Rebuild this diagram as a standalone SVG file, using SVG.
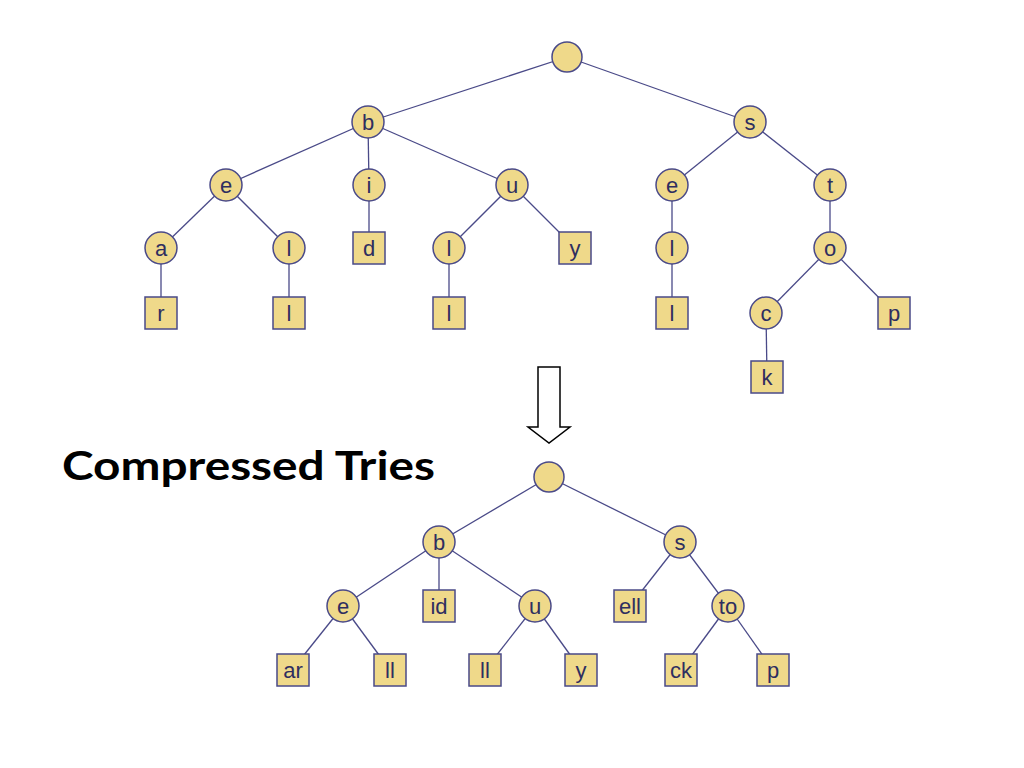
<svg xmlns="http://www.w3.org/2000/svg" width="1024" height="768" viewBox="0 0 1024 768">
<style>
.n{fill:#EFD98A;stroke:#4A4A88;stroke-width:1.5}
.e line{stroke:#4A4A88;stroke-width:1.3}
text.t{font-family:"Liberation Sans",Arial,sans-serif;font-size:22px;fill:#2E2E60;text-anchor:middle;dominant-baseline:central}
</style>
<rect width="1024" height="768" fill="#fff"/>
<g class="e">
<line x1="567" y1="57" x2="368" y2="122"/><line x1="567" y1="57" x2="750" y2="122"/>
<line x1="368" y1="122" x2="226" y2="185"/><line x1="368" y1="122" x2="369" y2="185"/><line x1="368" y1="122" x2="512" y2="185"/>
<line x1="750" y1="122" x2="672" y2="185"/><line x1="750" y1="122" x2="830" y2="185"/>
<line x1="226" y1="185" x2="161" y2="248"/><line x1="226" y1="185" x2="289" y2="248"/>
<line x1="369" y1="185" x2="369" y2="248"/>
<line x1="512" y1="185" x2="449" y2="248"/><line x1="512" y1="185" x2="575" y2="248"/>
<line x1="672" y1="185" x2="672" y2="248"/><line x1="830" y1="185" x2="830" y2="248"/>
<line x1="161" y1="248" x2="161" y2="313"/><line x1="289" y1="248" x2="289" y2="313"/>
<line x1="449" y1="248" x2="449" y2="313"/><line x1="672" y1="248" x2="672" y2="313"/>
<line x1="830" y1="248" x2="766" y2="313"/><line x1="830" y1="248" x2="894" y2="313"/>
<line x1="766" y1="313" x2="767" y2="377"/>
<line x1="549" y1="477" x2="439" y2="542"/><line x1="549" y1="477" x2="680" y2="542"/>
<line x1="439" y1="542" x2="343" y2="606"/><line x1="439" y1="542" x2="439" y2="606"/><line x1="439" y1="542" x2="535" y2="606"/>
<line x1="680" y1="542" x2="630" y2="606"/><line x1="680" y1="542" x2="728" y2="606"/>
<line x1="343" y1="606" x2="292" y2="670"/><line x1="343" y1="606" x2="390" y2="670"/>
<line x1="535" y1="606" x2="485" y2="670"/><line x1="535" y1="606" x2="581" y2="670"/>
<line x1="728" y1="606" x2="681" y2="670"/><line x1="728" y1="606" x2="773" y2="670"/>
</g>
<g id="root1"><circle class="n" cx="567" cy="57" r="15"/></g>
<g id="b1"><circle class="n" cx="368" cy="122" r="16"/><text class="t" x="368" y="122">b</text></g>
<g id="s1"><circle class="n" cx="750" cy="122" r="16"/><text class="t" x="750" y="122">s</text></g>
<g id="e1"><circle class="n" cx="226" cy="185" r="16"/><text class="t" x="226" y="185">e</text></g>
<g id="i1"><circle class="n" cx="369" cy="185" r="16"/><text class="t" x="369" y="185">i</text></g>
<g id="u1"><circle class="n" cx="512" cy="185" r="16"/><text class="t" x="512" y="185">u</text></g>
<g id="e2"><circle class="n" cx="672" cy="185" r="16"/><text class="t" x="672" y="185">e</text></g>
<g id="t1"><circle class="n" cx="830" cy="185" r="16"/><text class="t" x="830" y="185">t</text></g>
<g id="a1"><circle class="n" cx="161" cy="248" r="16"/><text class="t" x="161" y="248">a</text></g>
<g id="l1"><circle class="n" cx="289" cy="248" r="16"/><text class="t" x="289" y="248">l</text></g>
<g id="d1"><rect class="n" x="353" y="232" width="32" height="32"/><text class="t" x="369" y="248">d</text></g>
<g id="l2"><circle class="n" cx="449" cy="248" r="16"/><text class="t" x="449" y="248">l</text></g>
<g id="y1"><rect class="n" x="559" y="232" width="32" height="32"/><text class="t" x="575" y="248">y</text></g>
<g id="l3"><circle class="n" cx="672" cy="248" r="16"/><text class="t" x="672" y="248">l</text></g>
<g id="o1"><circle class="n" cx="830" cy="248" r="16"/><text class="t" x="830" y="248">o</text></g>
<g id="r1"><rect class="n" x="145" y="297" width="32" height="32"/><text class="t" x="161" y="313">r</text></g>
<g id="l4"><rect class="n" x="273" y="297" width="32" height="32"/><text class="t" x="289" y="313">l</text></g>
<g id="l5"><rect class="n" x="433" y="297" width="32" height="32"/><text class="t" x="449" y="313">l</text></g>
<g id="l6"><rect class="n" x="656" y="297" width="32" height="32"/><text class="t" x="672" y="313">l</text></g>
<g id="c1"><circle class="n" cx="766" cy="313" r="16"/><text class="t" x="766" y="313">c</text></g>
<g id="p1"><rect class="n" x="878" y="297" width="32" height="32"/><text class="t" x="894" y="313">p</text></g>
<g id="k1"><rect class="n" x="751" y="361" width="32" height="32"/><text class="t" x="767" y="377">k</text></g>
<g id="arrow"><polygon points="538,367 560,367 560,427 570,427 549,443 528,427 538,427" fill="#fff" stroke="#000" stroke-width="1.5"/></g>
<text x="62" y="480" font-family="Lato,'Open Sans',sans-serif" font-weight="700" font-size="40" fill="#000" textLength="373" lengthAdjust="spacingAndGlyphs">Compressed Tries</text>
<g id="root2"><circle class="n" cx="549" cy="477" r="15"/></g>
<g id="b2"><circle class="n" cx="439" cy="542" r="16"/><text class="t" x="439" y="542">b</text></g>
<g id="s2"><circle class="n" cx="680" cy="542" r="16"/><text class="t" x="680" y="542">s</text></g>
<g id="e3"><circle class="n" cx="343" cy="606" r="16"/><text class="t" x="343" y="606">e</text></g>
<g id="id2"><rect class="n" x="423" y="590" width="32" height="32"/><text class="t" x="439" y="606">id</text></g>
<g id="u2"><circle class="n" cx="535" cy="606" r="16"/><text class="t" x="535" y="606">u</text></g>
<g id="ell2"><rect class="n" x="614" y="590" width="32" height="32"/><text class="t" x="630" y="606">ell</text></g>
<g id="to2"><circle class="n" cx="728" cy="606" r="16"/><text class="t" x="728" y="606">to</text></g>
<g id="ar2"><rect class="n" x="277" y="654" width="32" height="32"/><text class="t" x="293" y="670">ar</text></g>
<g id="ll2"><rect class="n" x="374" y="654" width="32" height="32"/><text class="t" x="390" y="670">ll</text></g>
<g id="ll3"><rect class="n" x="469" y="654" width="32" height="32"/><text class="t" x="485" y="670">ll</text></g>
<g id="y2"><rect class="n" x="565" y="654" width="32" height="32"/><text class="t" x="581" y="670">y</text></g>
<g id="ck2"><rect class="n" x="665" y="654" width="32" height="32"/><text class="t" x="681" y="670">ck</text></g>
<g id="p2"><rect class="n" x="757" y="654" width="32" height="32"/><text class="t" x="773" y="670">p</text></g>
</svg>
